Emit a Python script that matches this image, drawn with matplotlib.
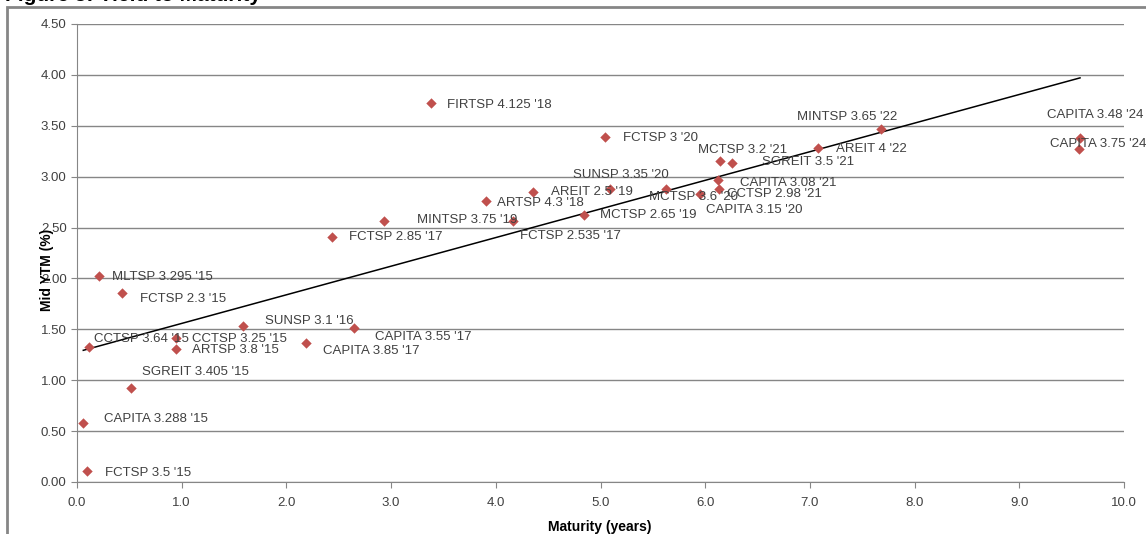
import matplotlib
matplotlib.use("Agg")
import matplotlib.pyplot as plt
import numpy as np
from matplotlib.patches import Rectangle

# bond labels, maturity (years) and mid YTM (%)
bonds = ["FCTSP 3.5 '15", "CAPITA 3.288 '15", "SGREIT 3.405 '15", "CCTSP 3.64 '15",
         "MLTSP 3.295 '15", "FCTSP 2.3 '15", "CCTSP 3.25 '15", "ARTSP 3.8 '15",
         "SUNSP 3.1 '16", "CAPITA 3.85 '17", "CAPITA 3.55 '17", "FCTSP 2.85 '17",
         "MINTSP 3.75 '19", "FCTSP 2.535 '17", "ARTSP 4.3 '18", "AREIT 2.5 '19",
         "SUNSP 3.35 '20", "MCTSP 2.65 '19", "FIRTSP 4.125 '18", "FCTSP 3 '20",
         "MCTSP 3.6 '20", "CAPITA 3.15 '20", "CCTSP 2.98 '21", "CAPITA 3.08 '21",
         "SGREIT 3.5 '21", "MCTSP 3.2 '21", "AREIT 4 '22", "MINTSP 3.65 '22",
         "CAPITA 3.48 '24", "CAPITA 3.75 '24"]
maturity = [0.10, 0.06, 0.52, 0.11, 0.21, 0.43, 0.95, 0.95, 1.59, 2.19, 2.65, 2.44,
            2.93, 4.16, 3.91, 4.36, 5.09, 4.84, 3.38, 5.04, 5.63, 5.95, 6.13, 6.12,
            6.26, 6.14, 7.08, 7.68, 9.58, 9.57]
ytm = [0.11, 0.58, 0.92, 1.33, 2.02, 1.86, 1.41, 1.31, 1.53, 1.37, 1.51, 2.41,
       2.56, 2.56, 2.76, 2.85, 2.88, 2.62, 3.72, 3.39, 2.88, 2.83, 2.88, 2.97,
       3.13, 3.15, 3.28, 3.47, 3.38, 3.27]

# label offsets in pixels (dx, dy) from each point
offsets = [(18, -2), (21, 4), (11, 16), (5, 8), (13, -1), (18, -6), (16, -1), (16, -1),
           (22, 5), (17, -8), (21, -9), (17, 0), (33, 1), (7, -15), (11, -2), (18, 0),
           (-37, 14), (16, 0), (16, -2), (18, -1), (-17, -8), (6, -16), (8, -5), (22, -3),
           (30, 1), (-22, 11), (18, -1), (-84, 12), (-33, 23), (-29, 5)]

fig = plt.figure(figsize=(11.46, 5.34), dpi=100)
ax = fig.add_axes([77 / 1146, 1 - 482 / 534, (1124 - 77) / 1146, (482 - 24) / 534])

grey = "#868686"
txt = "#404040"
font = "Liberation Sans"

ax.scatter(maturity, ytm, marker="D", s=28, color="#C0504D", zorder=3, linewidths=0)

# linear trendline
k, b = np.polyfit(maturity, ytm, 1)
xs = np.array([min(maturity), max(maturity)])
ax.plot(xs, k * xs + b, color="black", lw=1.1, zorder=2)

for name, x, y, (dx, dy) in zip(bonds, maturity, ytm, offsets):
    ax.annotate(name, (x, y), xytext=(dx * 0.72, dy * 0.72), textcoords="offset points",
                ha="left", va="center", fontsize=9.5, color=txt, family=font,
                annotation_clip=False, zorder=4)

ax.set_xlim(0, 10)
ax.set_ylim(0, 4.5)
ax.set_xticks(np.arange(0, 10.1, 1.0))
ax.set_yticks(np.arange(0, 4.51, 0.5))
ax.set_xticklabels([f"{v:.1f}" for v in np.arange(0, 10.1, 1.0)])
ax.set_yticklabels([f"{v:.2f}" for v in np.arange(0, 4.51, 0.5)])
ax.tick_params(axis="both", direction="out", length=4, color=grey, labelsize=9.5,
               labelcolor=txt)
for lab in ax.get_xticklabels() + ax.get_yticklabels():
    lab.set_family(font)
ax.tick_params(axis="x", pad=7)
ax.grid(axis="y", color=grey, lw=1)
ax.set_axisbelow(True)
for s in ["top", "right"]:
    ax.spines[s].set_visible(False)
for s in ["left", "bottom"]:
    ax.spines[s].set_color(grey)

fig.text(600 / 1146, 1 - 527 / 534, "Maturity (years)", ha="center", va="center",
         fontsize=10, fontweight="bold", family=font, color="black")
fig.text(47 / 1146, 1 - 270 / 534, "Mid YTM (%)", ha="center", va="center",
         rotation=90, fontsize=10, fontweight="bold", family=font, color="black")

# chart frame and clipped title
fig.patches.append(Rectangle((7 / 1146, -0.1), 1.2, 1 - 7 / 534 + 0.1,
                             transform=fig.transFigure, fill=False, ec=grey, lw=2))
fig.text(5 / 1146, 1 - 1 / 534, "Figure 5: Yield to Maturity", ha="left", va="baseline",
         fontsize=15, fontweight="bold", family=font)

fig.savefig("out.png", dpi=100)
